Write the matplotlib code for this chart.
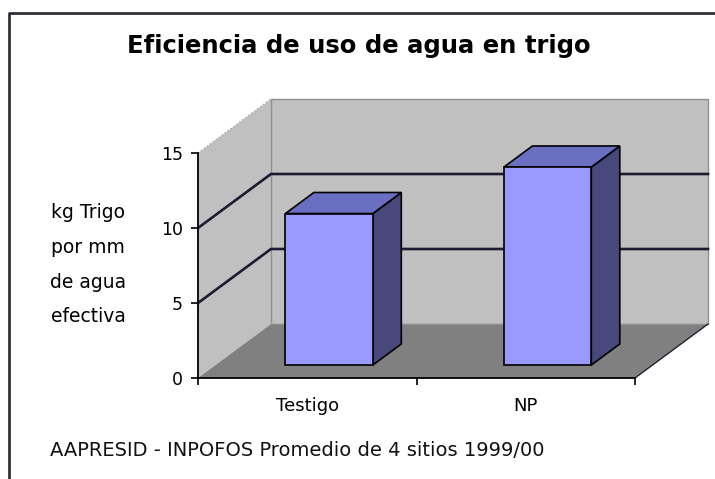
import matplotlib
matplotlib.use("Agg")
from matplotlib import pyplot as plt
from matplotlib.patches import Polygon
from matplotlib.lines import Line2D

categories = ["Testigo", "NP"]
values = [10.1, 13.2]
y_ticks = [0, 5, 10, 15]
title = "Eficiencia de uso de agua en trigo"
ylabel_lines = ["kg Trigo", "por mm", "de agua", "efectiva"]
footnote = "AAPRESID - INPOFOS Promedio de 4 sitios 1999/00"

# depth of the 3d box, in data units (x per category, y per value)
DX, DY = 0.334, 3.6
bar_w = 0.40
bar_shift = 0.02
bar_d0, bar_dd = 0.24, 0.39

wall_c = "#c0c0c0"
floor_c = "#808080"
front_c = "#9999ff"
top_c = "#6b6fc2"
side_c = "#48487c"
grid_c = "#1c1c30"


def proj(x, y, d):
    return (x + d * DX, y + d * DY)


fig = plt.figure(figsize=(7.15, 4.79), dpi=100)
fig.patch.set_facecolor("white")

ax = fig.add_axes([198 / 715, 101 / 479, 437 / 715, 225 / 479])
n = len(categories)
ax.set_xlim(0, n)
ax.set_ylim(0, y_ticks[-1])
ax.patch.set_visible(False)
top = y_ticks[-1]

# walls and floor
left_wall = [proj(0, 0, 0), proj(0, 0, 1), proj(0, top, 1), proj(0, top, 0)]
back_wall = [proj(0, 0, 1), proj(n, 0, 1), proj(n, top, 1), proj(0, top, 1)]
floor = [proj(0, 0, 0), proj(n, 0, 0), proj(n, 0, 1), proj(0, 0, 1)]
ax.add_patch(Polygon(left_wall, closed=True, fc=wall_c, ec="none", clip_on=False, zorder=1))
ax.add_patch(Polygon(back_wall, closed=True, fc=wall_c, ec="#909090", lw=1, clip_on=False, zorder=1))
ax.add_patch(Polygon(floor, closed=True, fc=floor_c, ec="none", clip_on=False, zorder=1))

# light top edge of the side wall
xs, ys = zip(proj(0, top, 0), proj(0, top, 1))
ax.plot(xs, ys, color="#a8a8a8", lw=1, ls=":", clip_on=False, zorder=2)
# back edge between wall and floor
xs, ys = zip(proj(0, 0, 1), proj(n, 0, 1))
ax.plot(xs, ys, color="#909090", lw=0.8, clip_on=False, zorder=2)
# right edge of the floor
xs, ys = zip(proj(n, 0, 0), proj(n, 0, 1))
ax.plot(xs, ys, color="#202030", lw=1, clip_on=False, zorder=2)

# gridlines running along side wall and back wall
for v in y_ticks[1:-1]:
    pts = [proj(0, v, 0), proj(0, v, 1), proj(n, v, 1)]
    xs, ys = zip(*pts)
    ax.plot(xs, ys, color=grid_c, lw=1.9, clip_on=False, zorder=2)

# 3d bars
for i, v in enumerate(values):
    c = i + 0.5 + bar_shift
    l, r = c - bar_w / 2, c + bar_w / 2
    d0, d1 = bar_d0, bar_d0 + bar_dd
    front = [proj(l, 0, d0), proj(r, 0, d0), proj(r, v, d0), proj(l, v, d0)]
    side = [proj(r, 0, d0), proj(r, 0, d1), proj(r, v, d1), proj(r, v, d0)]
    cap = [proj(l, v, d0), proj(r, v, d0), proj(r, v, d1), proj(l, v, d1)]
    for pts, fc in [(side, side_c), (cap, top_c), (front, front_c)]:
        ax.add_patch(Polygon(pts, closed=True, fc=fc, ec="black", lw=1.2,
                             joinstyle="miter", clip_on=False, zorder=3))

# front axes
for s in ["top", "right"]:
    ax.spines[s].set_visible(False)
for s in ["left", "bottom"]:
    ax.spines[s].set_color("black")
    ax.spines[s].set_linewidth(1.3)
    ax.spines[s].set_zorder(4)

ax.set_yticks(y_ticks)
ax.set_yticklabels([str(t) for t in y_ticks])
ax.tick_params(axis="y", direction="out", length=5, width=1.2, pad=6,
               labelsize=12.5, colors="black")
ax.set_xticks(range(n + 1))
ax.set_xticklabels([])
ax.tick_params(axis="x", which="major", direction="out", length=5, width=1.2)
ax.set_xticks([i + 0.5 for i in range(n)], minor=True)
ax.set_xticklabels(categories, minor=True, fontsize=13)
ax.tick_params(axis="x", which="minor", length=0, pad=14)

# title, axis label and source note
fig.text(359 / 715, 1 - 46 / 479, title, ha="center", va="center",
         fontsize=17.5, fontweight="bold")
for k, line in enumerate(ylabel_lines):
    fig.text(88 / 715, 1 - (213 + 34.5 * k) / 479, line, ha="center", va="center",
             fontsize=13.5)
fig.text(50 / 715, 1 - 450 / 479, footnote, ha="left", va="center", fontsize=14,
         color="#111111")

# chart frame
fig.add_artist(Line2D([9 / 715, 9 / 715, 1], [0, 1 - 13 / 479, 1 - 13 / 479],
                      transform=fig.transFigure, color="#30303c", lw=2))

fig.savefig("out.png", dpi=100)
